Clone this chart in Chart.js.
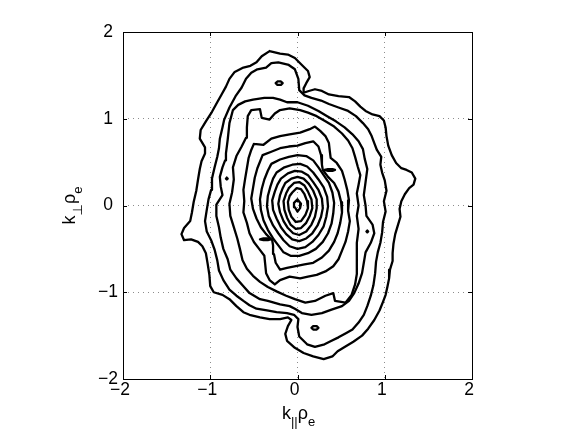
<!DOCTYPE html>
<html><head><meta charset="utf-8">
<script src="https://cdn.jsdelivr.net/npm/chart.js@4.4.1/dist/chart.umd.min.js"></script>
<style>html,body{margin:0;padding:0;background:#fff;}#wrap{width:575px;height:432px;}</style>
</head><body><div id="wrap"><canvas id="c" width="575" height="432"></canvas></div>
<script>
const xTickValues = [-2, -1, 0, 1, 2];
const xTickLabels = ['\u22122', '\u22121', '0', '1', '2'];
const yTickValues = [-2, -1, 0, 1, 2];
const yTickLabels = ['\u22122', '\u22121', '0', '1', '2'];
const xTitleParts = [['k', 0], ['||', 1], ['\u03c1', 0], ['e', 1]];
const yTitleParts = [['k', 0], ['\u22a5', 1], ['\u03c1', 0], ['e', 1]];

const ring1 = [[-0.32,1.78],[-0.20,1.75],[-0.11,1.74],[-0.03,1.70],[0.05,1.62],[0.12,1.55],[0.14,1.48],[0.10,1.41],[0.07,1.35],[0.07,1.30],[0.13,1.32],[0.20,1.34],[0.28,1.32],[0.36,1.28],[0.47,1.26],[0.59,1.25],[0.66,1.20],[0.72,1.14],[0.78,1.09],[0.86,1.05],[0.94,1.03],[0.99,0.98],[1.01,0.90],[1.02,0.80],[1.04,0.69],[1.08,0.58],[1.13,0.49],[1.19,0.43],[1.25,0.41],[1.31,0.38],[1.35,0.31],[1.33,0.24],[1.28,0.20],[1.23,0.13],[1.19,0.05],[1.17,-0.04],[1.18,-0.13],[1.15,-0.23],[1.12,-0.33],[1.10,-0.44],[1.09,-0.55],[1.09,-0.64],[1.06,-0.74],[1.05,-0.84],[1.03,-0.94],[1.01,-1.03],[0.98,-1.11],[0.94,-1.21],[0.88,-1.32],[0.81,-1.42],[0.74,-1.50],[0.64,-1.57],[0.54,-1.63],[0.46,-1.68],[0.40,-1.74],[0.30,-1.77],[0.18,-1.74],[0.07,-1.70],[-0.03,-1.64],[-0.12,-1.56],[-0.14,-1.48],[-0.11,-1.39],[-0.07,-1.32],[-0.11,-1.29],[-0.20,-1.31],[-0.32,-1.31],[-0.43,-1.29],[-0.55,-1.26],[-0.62,-1.23],[-0.70,-1.16],[-0.78,-1.08],[-0.86,-1.03],[-0.96,-1.00],[-1.00,-0.93],[-1.01,-0.80],[-1.03,-0.67],[-1.05,-0.55],[-1.09,-0.47],[-1.14,-0.42],[-1.22,-0.39],[-1.30,-0.40],[-1.33,-0.33],[-1.30,-0.26],[-1.23,-0.18],[-1.21,-0.08],[-1.19,0.04],[-1.16,0.17],[-1.14,0.30],[-1.12,0.42],[-1.10,0.51],[-1.06,0.60],[-1.06,0.67],[-1.12,0.77],[-1.11,0.87],[-1.05,0.97],[-0.98,1.08],[-0.92,1.19],[-0.87,1.28],[-0.82,1.37],[-0.78,1.46],[-0.72,1.54],[-0.62,1.59],[-0.54,1.61],[-0.47,1.65],[-0.41,1.72]];
const ring2 = [[-0.30,1.64],[-0.22,1.65],[-0.10,1.62],[-0.03,1.57],[0.01,1.46],[0.02,1.33],[0.08,1.27],[0.16,1.24],[0.27,1.21],[0.36,1.17],[0.47,1.13],[0.58,1.09],[0.67,1.03],[0.75,0.95],[0.81,0.88],[0.85,0.80],[0.88,0.72],[0.91,0.64],[0.96,0.56],[0.95,0.47],[0.97,0.38],[1.00,0.29],[1.02,0.17],[0.99,0.05],[1.01,-0.07],[0.98,-0.19],[0.97,-0.31],[0.95,-0.43],[0.92,-0.54],[0.90,-0.65],[0.89,-0.78],[0.87,-0.92],[0.84,-1.04],[0.80,-1.16],[0.76,-1.26],[0.70,-1.35],[0.63,-1.43],[0.56,-1.47],[0.47,-1.52],[0.39,-1.56],[0.31,-1.60],[0.20,-1.63],[0.11,-1.60],[0.02,-1.51],[0.00,-1.40],[0.01,-1.31],[-0.04,-1.26],[-0.12,-1.24],[-0.24,-1.23],[-0.35,-1.21],[-0.47,-1.19],[-0.55,-1.15],[-0.62,-1.10],[-0.70,-1.04],[-0.78,-0.97],[-0.85,-0.86],[-0.90,-0.75],[-0.92,-0.63],[-0.95,-0.51],[-0.99,-0.40],[-1.04,-0.30],[-1.06,-0.18],[-1.04,-0.05],[-1.02,0.07],[-0.99,0.18],[-0.98,0.31],[-0.95,0.44],[-0.92,0.56],[-0.90,0.66],[-0.89,0.77],[-0.86,0.90],[-0.84,0.99],[-0.78,1.13],[-0.71,1.26],[-0.64,1.36],[-0.59,1.46],[-0.53,1.53],[-0.46,1.57],[-0.36,1.59]];
const ring3 = [[-0.82,0.60],[-0.80,0.76],[-0.78,0.95],[-0.74,1.10],[-0.68,1.16],[-0.60,1.20],[-0.51,1.22],[-0.38,1.24],[-0.28,1.24],[-0.20,1.22],[-0.12,1.19],[0.00,1.19],[0.12,1.15],[0.24,1.09],[0.34,1.03],[0.44,0.97],[0.54,0.90],[0.63,0.82],[0.70,0.74],[0.75,0.65],[0.77,0.54],[0.80,0.42],[0.78,0.27],[0.76,0.12],[0.78,0.00],[0.79,-0.12],[0.86,-0.22],[0.88,-0.32],[0.84,-0.43],[0.78,-0.54],[0.76,-0.66],[0.74,-0.78],[0.70,-0.90],[0.65,-1.01],[0.59,-1.10],[0.51,-1.16],[0.39,-1.20],[0.28,-1.24],[0.16,-1.26],[0.05,-1.24],[-0.03,-1.19],[-0.09,-1.16],[-0.20,-1.14],[-0.34,-1.10],[-0.43,-1.08],[-0.55,-1.01],[-0.62,-0.93],[-0.70,-0.84],[-0.77,-0.74],[-0.80,-0.62],[-0.85,-0.50],[-0.88,-0.37],[-0.90,-0.25],[-0.93,-0.12],[-0.93,0.01],[-0.86,0.12],[-0.88,0.22],[-0.89,0.33],[-0.86,0.44],[-0.83,0.52]];
const ring4 = [[-0.59,0.78],[-0.58,0.90],[-0.57,1.03],[-0.53,1.10],[-0.43,1.11],[-0.41,1.01],[-0.32,0.99],[-0.26,1.06],[-0.20,1.10],[-0.09,1.12],[0.03,1.10],[0.12,1.07],[0.22,1.03],[0.32,0.97],[0.42,0.91],[0.51,0.83],[0.58,0.75],[0.63,0.66],[0.66,0.56],[0.69,0.45],[0.72,0.35],[0.70,0.24],[0.68,0.14],[0.70,0.00],[0.68,-0.12],[0.70,-0.27],[0.68,-0.43],[0.68,-0.62],[0.68,-0.79],[0.66,-0.91],[0.62,-1.03],[0.55,-1.12],[0.43,-1.10],[0.41,-1.01],[0.32,-1.04],[0.20,-1.10],[0.09,-1.12],[-0.03,-1.08],[-0.13,-1.04],[-0.24,-0.99],[-0.34,-0.94],[-0.43,-0.88],[-0.51,-0.81],[-0.58,-0.73],[-0.63,-0.63],[-0.66,-0.50],[-0.69,-0.38],[-0.73,-0.25],[-0.77,-0.12],[-0.78,0.02],[-0.75,0.15],[-0.73,0.30],[-0.74,0.44],[-0.70,0.57],[-0.64,0.68]];
const ring5 = [[-0.50,0.71],[-0.39,0.70],[-0.30,0.77],[-0.20,0.80],[-0.09,0.82],[0.03,0.84],[0.14,0.88],[0.20,0.91],[0.26,0.86],[0.32,0.80],[0.36,0.72],[0.37,0.63],[0.38,0.55],[0.45,0.49],[0.51,0.40],[0.54,0.30],[0.57,0.18],[0.59,0.06],[0.58,-0.06],[0.60,-0.18],[0.58,-0.30],[0.55,-0.42],[0.51,-0.52],[0.47,-0.62],[0.41,-0.70],[0.32,-0.76],[0.22,-0.80],[0.12,-0.82],[0.03,-0.84],[-0.09,-0.82],[-0.20,-0.86],[-0.26,-0.91],[-0.32,-0.86],[-0.36,-0.78],[-0.37,-0.68],[-0.38,-0.58],[-0.44,-0.50],[-0.50,-0.42],[-0.55,-0.32],[-0.58,-0.20],[-0.62,-0.08],[-0.61,0.05],[-0.62,0.18],[-0.60,0.31],[-0.58,0.43],[-0.56,0.55],[-0.53,0.64]];
const ring6 = [[-0.40,0.58],[-0.30,0.62],[-0.20,0.66],[-0.10,0.68],[0.00,0.69],[0.09,0.72],[0.18,0.74],[0.24,0.68],[0.27,0.58],[0.28,0.47],[0.29,0.41],[0.35,0.33],[0.42,0.26],[0.47,0.16],[0.50,0.04],[0.51,-0.08],[0.49,-0.20],[0.46,-0.32],[0.42,-0.42],[0.36,-0.52],[0.28,-0.60],[0.18,-0.66],[0.08,-0.68],[-0.02,-0.70],[-0.12,-0.72],[-0.20,-0.74],[-0.25,-0.66],[-0.27,-0.56],[-0.28,-0.46],[-0.29,-0.40],[-0.36,-0.33],[-0.42,-0.25],[-0.47,-0.15],[-0.51,-0.04],[-0.53,0.08],[-0.51,0.20],[-0.49,0.32],[-0.46,0.43]];
const ring7 = [[-0.30,0.48],[-0.20,0.53],[-0.10,0.56],[0.00,0.58],[0.10,0.57],[0.18,0.52],[0.24,0.44],[0.30,0.35],[0.36,0.26],[0.40,0.15],[0.42,0.03],[0.41,-0.09],[0.39,-0.21],[0.35,-0.32],[0.29,-0.42],[0.21,-0.50],[0.12,-0.55],[0.02,-0.58],[-0.08,-0.58],[-0.16,-0.54],[-0.22,-0.46],[-0.28,-0.38],[-0.34,-0.28],[-0.39,-0.17],[-0.42,-0.05],[-0.43,0.07],[-0.41,0.19],[-0.38,0.30],[-0.34,0.40]];
const ring8 = [[-0.24,0.38],[-0.15,0.44],[-0.06,0.47],[0.03,0.48],[0.11,0.45],[0.18,0.38],[0.24,0.30],[0.30,0.21],[0.34,0.10],[0.35,-0.01],[0.33,-0.13],[0.30,-0.24],[0.24,-0.34],[0.17,-0.42],[0.09,-0.48],[0.00,-0.50],[-0.09,-0.47],[-0.16,-0.40],[-0.22,-0.32],[-0.28,-0.23],[-0.33,-0.12],[-0.35,-0.01],[-0.34,0.11],[-0.31,0.22],[-0.28,0.31]];
const ring9 = [[-0.19,0.31],[-0.11,0.37],[-0.03,0.40],[0.05,0.39],[0.12,0.35],[0.18,0.27],[0.24,0.18],[0.28,0.08],[0.29,-0.03],[0.27,-0.13],[0.23,-0.23],[0.17,-0.32],[0.10,-0.38],[0.02,-0.41],[-0.06,-0.39],[-0.13,-0.33],[-0.19,-0.25],[-0.24,-0.15],[-0.28,-0.05],[-0.29,0.06],[-0.26,0.16],[-0.23,0.24]];
const ring10 = [[-0.14,0.26],[-0.07,0.31],[0.00,0.33],[0.07,0.31],[0.13,0.25],[0.18,0.17],[0.22,0.07],[0.22,-0.03],[0.20,-0.13],[0.16,-0.22],[0.10,-0.30],[0.02,-0.34],[-0.05,-0.32],[-0.11,-0.26],[-0.16,-0.18],[-0.20,-0.08],[-0.22,0.02],[-0.20,0.12],[-0.17,0.20]];
const ring11 = [[-0.10,0.20],[-0.04,0.26],[0.02,0.27],[0.08,0.23],[0.12,0.16],[0.16,0.07],[0.17,-0.03],[0.14,-0.12],[0.10,-0.20],[0.04,-0.26],[-0.02,-0.27],[-0.08,-0.22],[-0.12,-0.14],[-0.15,-0.05],[-0.16,0.05],[-0.13,0.14]];
const ring12 = [[-0.06,0.15],[-0.01,0.20],[0.04,0.19],[0.08,0.13],[0.11,0.05],[0.12,-0.03],[0.09,-0.11],[0.04,-0.18],[-0.02,-0.19],[-0.07,-0.13],[-0.10,-0.05],[-0.11,0.04],[-0.09,0.11]];
const ring13 = [[0.00,0.07],[0.04,0.02],[0.03,-0.03],[0.00,-0.07],[-0.03,-0.02],[-0.04,0.03]];
const islandTop = [[-0.25,1.41],[-0.23,1.43],[-0.19,1.43],[-0.17,1.41],[-0.19,1.39],[-0.23,1.39]];
const islandBottom = [[0.16,-1.41],[0.18,-1.39],[0.22,-1.39],[0.24,-1.41],[0.22,-1.43],[0.18,-1.43]];
const dashUpper = [[0.31,0.41],[0.35,0.42],[0.40,0.42],[0.43,0.41],[0.40,0.40],[0.35,0.40]];
const dashLower = [[-0.43,-0.39],[-0.39,-0.38],[-0.34,-0.38],[-0.31,-0.39],[-0.34,-0.40],[-0.39,-0.40]];
const dotLeft = [[-0.81,0.32],[-0.80,0.31],[-0.81,0.30],[-0.82,0.31]];
const dotRight = [[0.80,-0.29],[0.81,-0.30],[0.80,-0.31],[0.79,-0.30]];

const contours = [ring1, ring2, ring3, ring4, ring5, ring6, ring7, ring8, ring9, ring10, ring11, ring12, ring13,
  islandTop, islandBottom, dashUpper, dashLower, dotLeft, dotRight];

const FONT = "'Liberation Sans', Arial, Helvetica, 'DejaVu Sans', sans-serif";

const datasets = contours.map(c => ({
  data: c.concat([c[0]]).map(p => ({x: p[0], y: p[1]})),
  showLine: true,
  borderColor: '#000',
  borderWidth: 2.3,
  pointRadius: 0,
  pointHoverRadius: 0,
  tension: 0,
  fill: false,
  borderJoinStyle: 'round',
  borderCapStyle: 'round'
}));

function drawParts(ctx, parts, mainSize, subSize, subShift) {
  let total = 0;
  parts.forEach(([t, s]) => { ctx.font = (s ? subSize : mainSize) + 'px ' + FONT; total += ctx.measureText(t).width; });
  let x = -total / 2;
  parts.forEach(([t, s]) => {
    ctx.font = (s ? subSize : mainSize) + 'px ' + FONT;
    ctx.fillText(t, x, s ? subShift : 0);
    x += ctx.measureText(t).width;
  });
}

const framePlugin = {
  id: 'frame',
  afterDraw(chart) {
    const {ctx, chartArea: a, scales} = chart;
    ctx.save();
    ctx.strokeStyle = '#000';
    ctx.lineWidth = 1;
    ctx.strokeRect(a.left + 0.5, a.top + 0.5, a.right - a.left, a.bottom - a.top);
    const L = 4;
    ctx.beginPath();
    xTickValues.forEach(v => {
      const px = Math.round(scales.x.getPixelForValue(v)) + 0.5;
      ctx.moveTo(px, a.bottom); ctx.lineTo(px, a.bottom - L);
      ctx.moveTo(px, a.top); ctx.lineTo(px, a.top + L);
    });
    yTickValues.forEach(v => {
      const py = Math.round(scales.y.getPixelForValue(v)) + 0.5;
      ctx.moveTo(a.left, py); ctx.lineTo(a.left + L, py);
      ctx.moveTo(a.right, py); ctx.lineTo(a.right - L, py);
    });
    ctx.stroke();
    ctx.fillStyle = '#000';
    ctx.textBaseline = 'alphabetic';
    ctx.textAlign = 'left';
    ctx.save();
    ctx.translate((a.left + a.right) / 2 + 1, 419);
    drawParts(ctx, xTitleParts, 18, 13, 7);
    ctx.restore();
    ctx.save();
    ctx.translate(75, (a.top + a.bottom) / 2);
    ctx.rotate(-Math.PI / 2);
    drawParts(ctx, yTitleParts, 18, 13, 7);
    ctx.restore();
    ctx.restore();
  }
};

new Chart(document.getElementById('c'), {
  type: 'scatter',
  data: {datasets},
  options: {
    responsive: false,
    animation: false,
    devicePixelRatio: 1,
    layout: {padding: {left: 93, right: 103, top: 32, bottom: 33}},
    plugins: {legend: {display: false}, tooltip: {enabled: false}, title: {display: false}},
    scales: {
      x: {
        type: 'linear', min: -2, max: 2, position: 'bottom',
        afterBuildTicks: s => { s.ticks = xTickValues.map(v => ({value: v})); },
        afterFit: s => { s.height = 20; },
        ticks: {
          callback: (v) => xTickLabels[xTickValues.indexOf(v)],
          font: {family: FONT, size: 17.5, lineHeight: 1},
          color: '#000', padding: 2, labelOffset: -3, maxRotation: 0, autoSkip: false
        },
        grid: {color: '#8c8c8c', lineWidth: 1, drawTicks: false},
        border: {display: false, dash: [1, 4]}
      },
      y: {
        type: 'linear', min: -2, max: 2, position: 'left',
        afterBuildTicks: s => { s.ticks = yTickValues.map(v => ({value: v})); },
        afterFit: s => { s.width = 30; },
        ticks: {
          callback: (v) => yTickLabels[yTickValues.indexOf(v)],
          font: {family: FONT, size: 17.5, lineHeight: 1},
          color: '#000', padding: 5, crossAlign: 'center', autoSkip: false
        },
        grid: {color: '#8c8c8c', lineWidth: 1, drawTicks: false},
        border: {display: false, dash: [1, 4]}
      }
    }
  },
  plugins: [framePlugin]
});
</script>
</body></html>
